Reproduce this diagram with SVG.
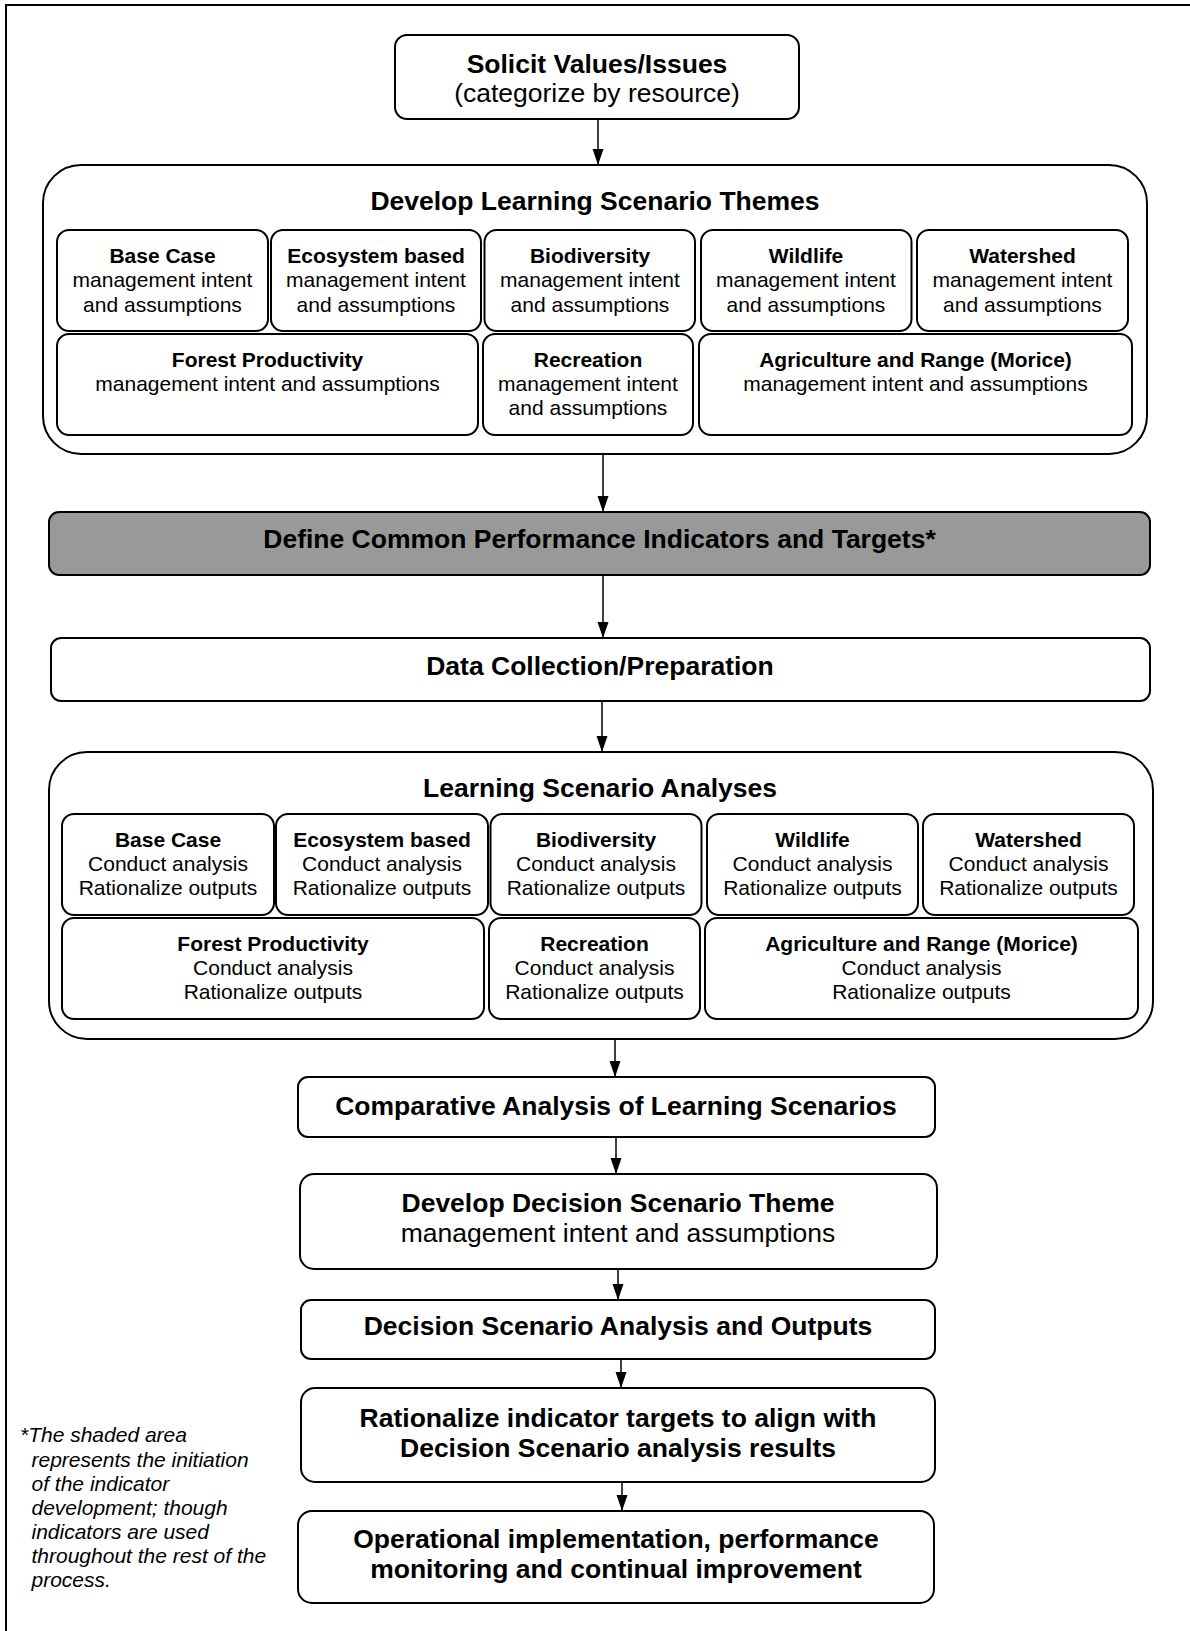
<svg xmlns="http://www.w3.org/2000/svg" width="1190" height="1631" viewBox="0 0 1190 1631">
<defs>
<marker id="ah" markerUnits="userSpaceOnUse" markerWidth="16" markerHeight="12" refX="16" refY="5.5" orient="auto">
<path d="M0,0 L16,5.5 L0,11 z" fill="#000"/>
</marker>
<style>
.box{fill:#fff;stroke:#000;stroke-width:2}
.shade{fill:#999;stroke:#000;stroke-width:2}
.frame{fill:none;stroke:#000;stroke-width:2}
.conn{stroke:#000;stroke-width:1.5;fill:none;marker-end:url(#ah)}
text{font-family:"Liberation Sans",Arial,sans-serif;fill:#000;text-anchor:middle}
.big{font-size:26.5px;font-weight:bold}
.bigr{font-size:26.5px}
.t{font-size:21px;font-weight:bold}
.s{font-size:21px}
.note{font-size:21px;font-style:italic;text-anchor:start}
</style>
</defs>
<rect width="1190" height="1631" fill="#fff"/>
<rect class="frame" x="6" y="5" width="1300" height="1700"/>

<g id="connectors">
<line class="conn" x1="598" y1="119" x2="598" y2="165"/>
<line class="conn" x1="603" y1="454" x2="603" y2="512"/>
<line class="conn" x1="603" y1="575" x2="603" y2="638"/>
<line class="conn" x1="602" y1="701" x2="602" y2="752"/>
<line class="conn" x1="615" y1="1039" x2="615" y2="1077"/>
<line class="conn" x1="616" y1="1137" x2="616" y2="1174"/>
<line class="conn" x1="618" y1="1269" x2="618" y2="1300"/>
<line class="conn" x1="621" y1="1359" x2="621" y2="1388"/>
<line class="conn" x1="622" y1="1482" x2="622" y2="1511"/>
</g>

<g id="solicit">
<rect class="box" x="395" y="35" width="404" height="84" rx="12"/>
<text class="big" x="597" y="73">Solicit Values/Issues</text>
<text class="bigr" x="597" y="102">(categorize by resource)</text>
</g>

<g id="develop-themes">
<rect class="box" x="43" y="165" width="1104" height="289" rx="38"/>
<text class="big" x="595" y="210">Develop Learning Scenario Themes</text>
</g>
<g id="dt-base"><rect class="box" x="57" y="230" width="211" height="101" rx="12"/>
<text class="t" x="162.5" y="262.5">Base Case</text><text class="s" x="162.5" y="287">management intent</text><text class="s" x="162.5" y="311.5">and assumptions</text></g>
<g id="dt-eco"><rect class="box" x="271" y="230" width="210" height="101" rx="12"/>
<text class="t" x="376" y="262.5">Ecosystem based</text><text class="s" x="376" y="287">management intent</text><text class="s" x="376" y="311.5">and assumptions</text></g>
<g id="dt-bio"><rect class="box" x="484.5" y="230" width="210.5" height="101" rx="12"/>
<text class="t" x="590" y="262.5">Biodiversity</text><text class="s" x="590" y="287">management intent</text><text class="s" x="590" y="311.5">and assumptions</text></g>
<g id="dt-wild"><rect class="box" x="701" y="230" width="210.5" height="101" rx="12"/>
<text class="t" x="806" y="262.5">Wildlife</text><text class="s" x="806" y="287">management intent</text><text class="s" x="806" y="311.5">and assumptions</text></g>
<g id="dt-water"><rect class="box" x="917" y="230" width="211" height="101" rx="12"/>
<text class="t" x="1022.5" y="262.5">Watershed</text><text class="s" x="1022.5" y="287">management intent</text><text class="s" x="1022.5" y="311.5">and assumptions</text></g>
<g id="dt-forest"><rect class="box" x="57" y="334" width="421" height="101" rx="12"/>
<text class="t" x="267.5" y="366.5">Forest Productivity</text><text class="s" x="267.5" y="391">management intent and assumptions</text></g>
<g id="dt-rec"><rect class="box" x="483" y="334" width="210" height="101" rx="12"/>
<text class="t" x="588" y="366.5">Recreation</text><text class="s" x="588" y="391">management intent</text><text class="s" x="588" y="415">and assumptions</text></g>
<g id="dt-agri"><rect class="box" x="699" y="334" width="433" height="101" rx="12"/>
<text class="t" x="915.5" y="366.5">Agriculture and Range (Morice)</text><text class="s" x="915.5" y="391">management intent and assumptions</text></g>

<g id="define">
<rect class="shade" x="49" y="512" width="1101" height="63" rx="10"/>
<text class="big" x="599.5" y="548">Define Common Performance Indicators and Targets*</text>
</g>

<g id="data">
<rect class="box" x="51" y="638" width="1099" height="63" rx="10"/>
<text class="big" x="600" y="675">Data Collection/Preparation</text>
</g>

<g id="analyses">
<rect class="box" x="49" y="752" width="1104" height="287" rx="38"/>
<text class="big" x="600" y="797">Learning Scenario Analyses</text>
</g>
<g id="la-base"><rect class="box" x="62" y="814" width="212" height="101" rx="12"/>
<text class="t" x="168" y="847">Base Case</text><text class="s" x="168" y="871">Conduct analysis</text><text class="s" x="168" y="895">Rationalize outputs</text></g>
<g id="la-eco"><rect class="box" x="276" y="814" width="212" height="101" rx="12"/>
<text class="t" x="382" y="847">Ecosystem based</text><text class="s" x="382" y="871">Conduct analysis</text><text class="s" x="382" y="895">Rationalize outputs</text></g>
<g id="la-bio"><rect class="box" x="490.5" y="814" width="211" height="101" rx="12"/>
<text class="t" x="596" y="847">Biodiversity</text><text class="s" x="596" y="871">Conduct analysis</text><text class="s" x="596" y="895">Rationalize outputs</text></g>
<g id="la-wild"><rect class="box" x="707" y="814" width="211" height="101" rx="12"/>
<text class="t" x="812.5" y="847">Wildlife</text><text class="s" x="812.5" y="871">Conduct analysis</text><text class="s" x="812.5" y="895">Rationalize outputs</text></g>
<g id="la-water"><rect class="box" x="923" y="814" width="211" height="101" rx="12"/>
<text class="t" x="1028.5" y="847">Watershed</text><text class="s" x="1028.5" y="871">Conduct analysis</text><text class="s" x="1028.5" y="895">Rationalize outputs</text></g>
<g id="la-forest"><rect class="box" x="62" y="918" width="422" height="101" rx="12"/>
<text class="t" x="273" y="951">Forest Productivity</text><text class="s" x="273" y="975">Conduct analysis</text><text class="s" x="273" y="999">Rationalize outputs</text></g>
<g id="la-rec"><rect class="box" x="489" y="918" width="211" height="101" rx="12"/>
<text class="t" x="594.5" y="951">Recreation</text><text class="s" x="594.5" y="975">Conduct analysis</text><text class="s" x="594.5" y="999">Rationalize outputs</text></g>
<g id="la-agri"><rect class="box" x="705" y="918" width="433" height="101" rx="12"/>
<text class="t" x="921.5" y="951">Agriculture and Range (Morice)</text><text class="s" x="921.5" y="975">Conduct analysis</text><text class="s" x="921.5" y="999">Rationalize outputs</text></g>

<g id="comparative">
<rect class="box" x="298" y="1077" width="637" height="60" rx="10"/>
<text class="big" x="616" y="1115">Comparative Analysis of Learning Scenarios</text>
</g>

<g id="decision-theme">
<rect class="box" x="300" y="1174" width="637" height="95" rx="14"/>
<text class="big" x="618" y="1212">Develop Decision Scenario Theme</text>
<text class="bigr" x="618" y="1242">management intent and assumptions</text>
</g>

<g id="decision-analysis">
<rect class="box" x="301" y="1300" width="634" height="59" rx="10"/>
<text class="big" x="618" y="1335">Decision Scenario Analysis and Outputs</text>
</g>

<g id="rationalize">
<rect class="box" x="301" y="1388" width="634" height="94" rx="14"/>
<text class="big" x="618" y="1427">Rationalize indicator targets to align with</text>
<text class="big" x="618" y="1457">Decision Scenario analysis results</text>
</g>

<g id="operational">
<rect class="box" x="298" y="1511" width="636" height="92" rx="14"/>
<text class="big" x="616" y="1548">Operational implementation, performance</text>
<text class="big" x="616" y="1578">monitoring and continual improvement</text>
</g>

<g id="footnote">
<text class="note" x="20" y="1442">*The shaded area</text>
<text class="note" x="31.5" y="1466.5">represents the initiation</text>
<text class="note" x="31.5" y="1491">of the indicator</text>
<text class="note" x="31.5" y="1515">development; though</text>
<text class="note" x="31.5" y="1539">indicators are used</text>
<text class="note" x="31.5" y="1563">throughout the rest of the</text>
<text class="note" x="31.5" y="1587">process.</text>
</g>
</svg>
